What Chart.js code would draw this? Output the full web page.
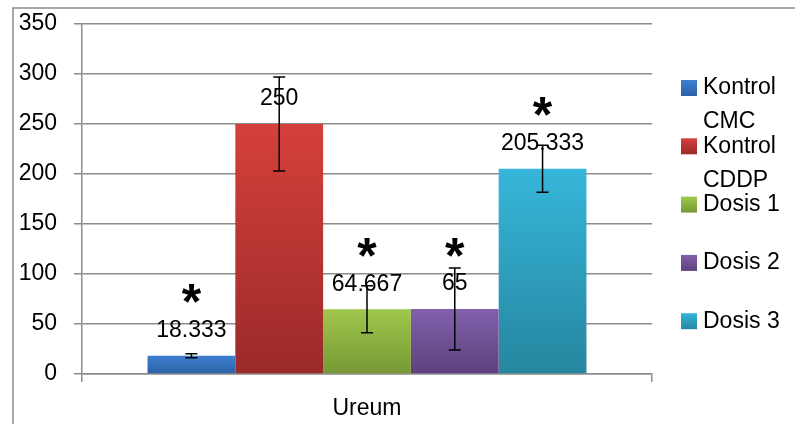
<!DOCTYPE html>
<html>
<head>
<meta charset="utf-8">
<script src="https://cdn.jsdelivr.net/npm/chart.js@4/dist/chart.umd.min.js"></script>
<style>
html,body{margin:0;padding:0;background:#fff;}
#wrap{width:795px;height:424px;position:relative;}
</style>
</head>
<body>
<div id="wrap"><canvas id="c" width="795" height="424"></canvas></div>
<script>
// ---- data ----
const categories = ['Ureum'];
const seriesNames = [['Kontrol', 'CMC'], ['Kontrol', 'CDDP'], ['Dosis 1'], ['Dosis 2'], ['Dosis 3']];
const meanValues = [18.333, 250, 64.667, 65, 205.333];
const errorValues = [2, 47, 23.5, 41, 23.5];
const valueLabels = ['18.333', '250', '64.667', '65', '205.333'];
const significant = [true, false, true, true, true];
const yTickValues = [0, 50, 100, 150, 200, 250, 300, 350];

// ---- styles ----
const topColors = ['#3d80d2', '#d5403b', '#a0c74d', '#8160ab', '#36b6da'];
const bottomColors = ['#2d60a4', '#9a2a29', '#779834', '#5e417e', '#26869f'];
const FONT = "'Liberation Sans', Arial, sans-serif";

function gradientFor(i) {
  return function (ctx) {
    const chart = ctx.chart;
    const ys = chart.scales.y;
    if (!chart.chartArea || !ys) return topColors[i];
    const top = ys.getPixelForValue(meanValues[i]);
    const bottom = ys.getPixelForValue(0);
    const g = chart.ctx.createLinearGradient(0, top, 0, bottom);
    g.addColorStop(0, topColors[i]);
    g.addColorStop(1, bottomColors[i]);
    return g;
  };
}

const datasets = seriesNames.map((name, i) => ({
  label: name.join(' '),
  data: [meanValues[i]],
  backgroundColor: gradientFor(i),
  borderWidth: 0,
  categoryPercentage: 0.77,
  barPercentage: 1.0
}));

const overlayPlugin = {
  id: 'overlay',
  afterDatasetsDraw(chart) {
    const ctx = chart.ctx;
    const ys = chart.scales.y;
    ctx.save();
    // error bars
    chart.data.datasets.forEach((ds, i) => {
      const bar = chart.getDatasetMeta(i).data[0];
      const x = bar.x;
      const yHi = ys.getPixelForValue(meanValues[i] + errorValues[i]);
      const yLo = ys.getPixelForValue(meanValues[i] - errorValues[i]);
      ctx.strokeStyle = '#000';
      ctx.lineWidth = 1.5;
      ctx.beginPath();
      ctx.moveTo(x, yHi); ctx.lineTo(x, yLo);
      ctx.moveTo(x - 6, yHi); ctx.lineTo(x + 6, yHi);
      ctx.moveTo(x - 6, yLo); ctx.lineTo(x + 6, yLo);
      ctx.stroke();
    });
    // value labels
    ctx.fillStyle = '#000';
    ctx.font = '23px ' + FONT;
    ctx.textAlign = 'center';
    ctx.textBaseline = 'middle';
    chart.data.datasets.forEach((ds, i) => {
      const bar = chart.getDatasetMeta(i).data[0];
      ctx.fillText(valueLabels[i], bar.x, bar.y - 25);
    });
    // significance asterisks
    ctx.font = 'bold 50px ' + FONT;
    ctx.textBaseline = 'alphabetic';
    const m = ctx.measureText('*');
    const shift = (m.actualBoundingBoxAscent - m.actualBoundingBoxDescent) / 2;
    chart.data.datasets.forEach((ds, i) => {
      if (!significant[i]) return;
      const bar = chart.getDatasetMeta(i).data[0];
      ctx.fillText('*', bar.x, bar.y - 62 + shift);
    });
    ctx.restore();
  },
  afterDraw(chart) {
    const ctx = chart.ctx;
    ctx.save();
    // legend
    const rowGap = 58.3;
    const lineH = 34;
    let cy = 88;
    ctx.font = '23px ' + FONT;
    ctx.textAlign = 'left';
    ctx.textBaseline = 'middle';
    seriesNames.forEach((name, i) => {
      const g = ctx.createLinearGradient(0, cy - 8, 0, cy + 8);
      g.addColorStop(0, topColors[i]);
      g.addColorStop(1, bottomColors[i]);
      ctx.fillStyle = g;
      ctx.fillRect(681, cy - 8, 16, 16);
      ctx.fillStyle = '#000';
      name.forEach((line, k) => ctx.fillText(line, 703, cy + k * lineH));
      cy += rowGap;
    });
    // outer frame
    ctx.strokeStyle = '#8c8c8c';
    ctx.lineWidth = 1.5;
    ctx.beginPath();
    ctx.moveTo(13, 430); ctx.lineTo(13, 8); ctx.lineTo(800, 8);
    ctx.stroke();
    ctx.restore();
  }
};

new Chart(document.getElementById('c'), {
  type: 'bar',
  data: { labels: categories, datasets: datasets },
  options: {
    responsive: false,
    animation: false,
    devicePixelRatio: 1,
    layout: { padding: { top: 24, right: 143, left: 0, bottom: 0 } },
    plugins: { legend: { display: false }, tooltip: { enabled: false } },
    scales: {
      x: {
        offset: true,
        grid: { display: true, drawOnChartArea: false, drawTicks: true, tickLength: 8, offset: true, color: '#8c8c8c', lineWidth: 1.5 },
        border: { display: true, color: '#8c8c8c', width: 1.5 },
        ticks: { color: '#000', font: { family: FONT, size: 23 }, padding: 13 },
        afterFit(scale) { scale.height = 50; scale.paddingLeft = 0; scale.paddingRight = 0; }
      },
      y: {
        min: 0, max: 350,
        afterBuildTicks(scale) { scale.ticks = yTickValues.map(v => ({ value: v })); },
        grid: { color: '#8c8c8c', lineWidth: 1.5, tickLength: 8 },
        border: { display: true, color: '#8c8c8c', width: 1.5 },
        ticks: { color: '#000', font: { family: FONT, size: 23 }, padding: 17 },
        afterFit(scale) { scale.width = 82; scale.paddingTop = 0; scale.paddingBottom = 0; }
      }
    }
  },
  plugins: [overlayPlugin]
});
</script>
</body>
</html>
